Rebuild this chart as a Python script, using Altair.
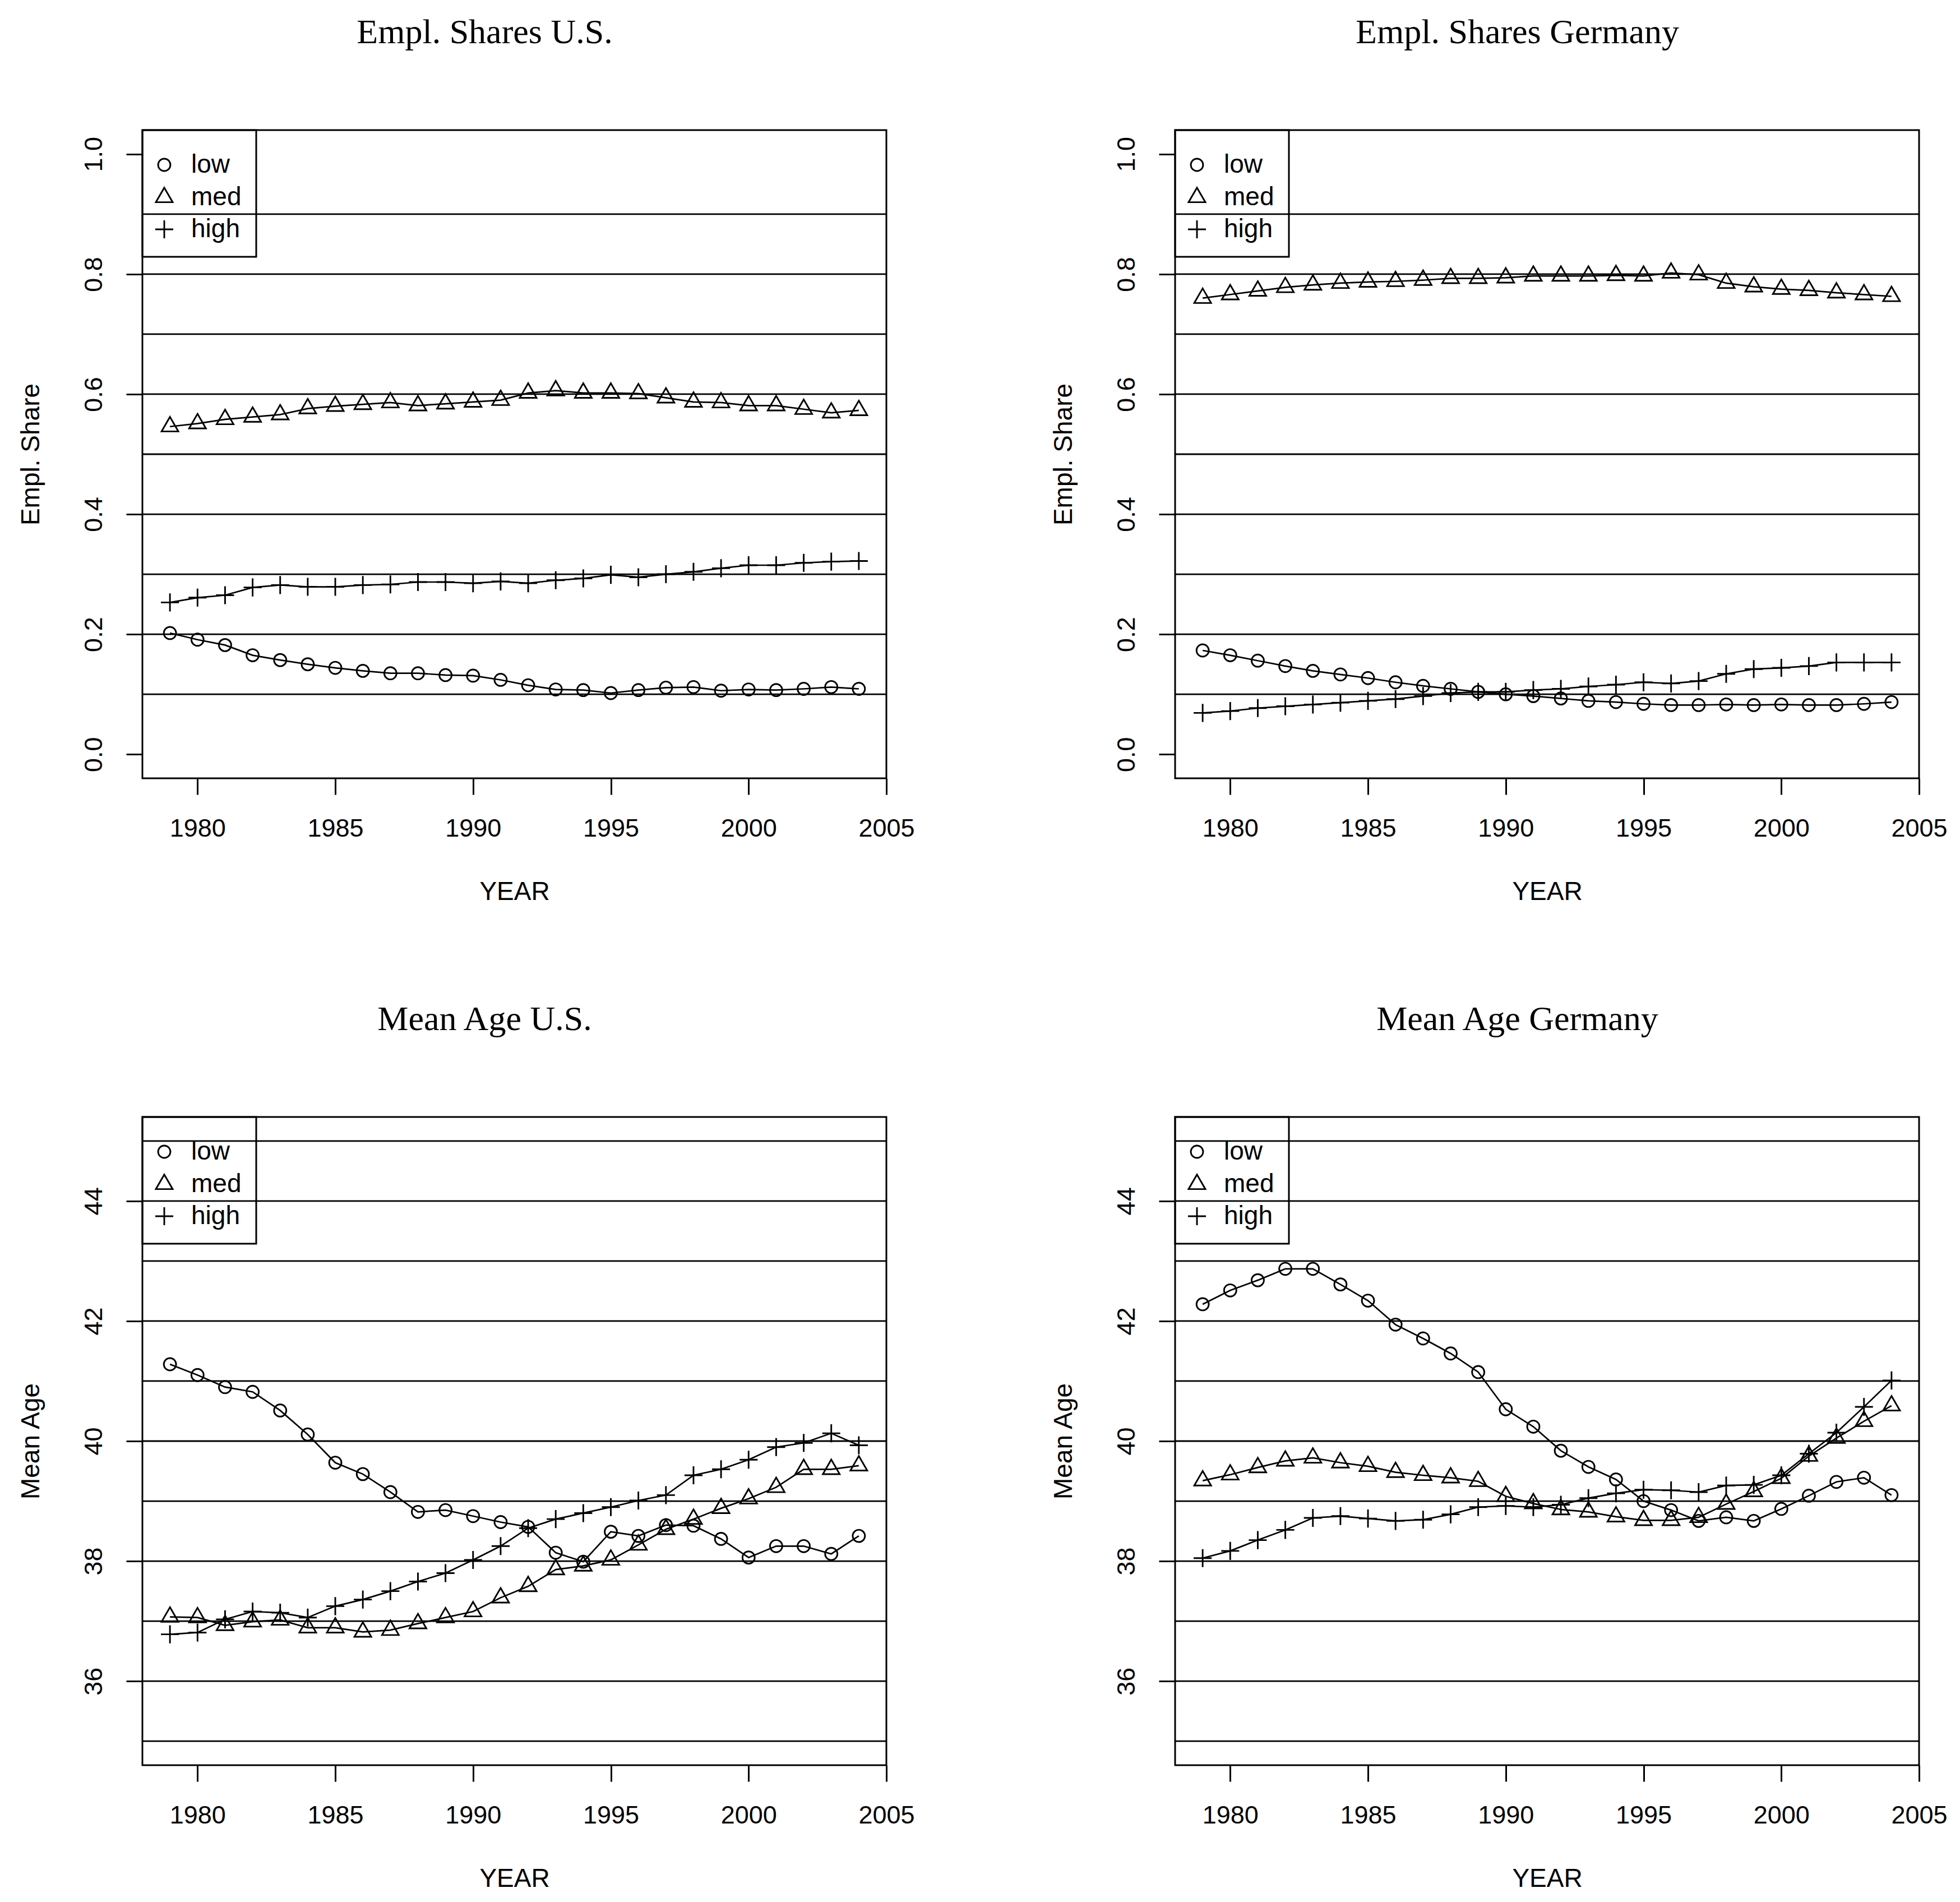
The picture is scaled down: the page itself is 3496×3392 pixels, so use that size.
import altair as alt
import pandas as pd

years = list(range(1979, 2005))
series_order = ["low", "med", "high"]

us_share_low = [0.202, 0.191, 0.182, 0.165, 0.157, 0.150, 0.144, 0.139, 0.135, 0.135, 0.132, 0.131, 0.124,
                0.115, 0.108, 0.107, 0.102, 0.107, 0.111, 0.112, 0.106, 0.108, 0.107, 0.109, 0.112, 0.109]
us_share_med = [0.546, 0.551, 0.558, 0.562, 0.566, 0.576, 0.580, 0.583, 0.586, 0.581, 0.584, 0.587, 0.590,
                0.602, 0.606, 0.602, 0.602, 0.601, 0.594, 0.587, 0.586, 0.581, 0.581, 0.575, 0.569, 0.573]
us_share_high = [0.253, 0.261, 0.265, 0.278, 0.282, 0.279, 0.279, 0.282, 0.283, 0.287, 0.287, 0.285, 0.288,
                 0.285, 0.290, 0.293, 0.299, 0.295, 0.300, 0.304, 0.310, 0.315, 0.315, 0.319, 0.321, 0.322]

de_share_low = [0.173, 0.165, 0.156, 0.147, 0.139, 0.133, 0.127, 0.120, 0.114, 0.109, 0.104, 0.100, 0.097,
                0.093, 0.089, 0.087, 0.084, 0.082, 0.082, 0.083, 0.082, 0.083, 0.082, 0.082, 0.084, 0.087]
de_share_med = [0.760, 0.766, 0.772, 0.778, 0.782, 0.785, 0.787, 0.788, 0.790, 0.793, 0.793, 0.794, 0.797,
                0.797, 0.797, 0.798, 0.797, 0.802, 0.799, 0.785, 0.779, 0.775, 0.773, 0.769, 0.766, 0.763]
de_share_high = [0.069, 0.072, 0.077, 0.080, 0.083, 0.086, 0.089, 0.092, 0.097, 0.102, 0.104, 0.104, 0.107,
                 0.109, 0.113, 0.116, 0.120, 0.118, 0.122, 0.134, 0.142, 0.144, 0.147, 0.153, 0.153, 0.153]

us_age_low = [41.28, 41.10, 40.90, 40.82, 40.51, 40.11, 39.64, 39.45, 39.15, 38.82, 38.85, 38.75, 38.65,
              38.57, 38.14, 37.99, 38.49, 38.42, 38.60, 38.59, 38.37, 38.06, 38.25, 38.25, 38.12, 38.42]
us_age_med = [37.07, 37.06, 36.93, 36.99, 37.02, 36.89, 36.89, 36.82, 36.85, 36.96, 37.06, 37.16, 37.39,
              37.58, 37.86, 37.92, 38.02, 38.27, 38.53, 38.70, 38.88, 39.04, 39.23, 39.53, 39.53, 39.59]
us_age_high = [36.78, 36.81, 37.03, 37.16, 37.14, 37.06, 37.25, 37.36, 37.50, 37.66, 37.80, 38.02, 38.25,
               38.55, 38.70, 38.80, 38.90, 39.01, 39.10, 39.43, 39.53, 39.69, 39.90, 39.97, 40.13, 39.93]

de_age_low = [42.28, 42.51, 42.68, 42.87, 42.87, 42.61, 42.34, 41.94, 41.71, 41.46, 41.15, 40.53, 40.24,
              39.84, 39.57, 39.36, 39.00, 38.85, 38.67, 38.73, 38.67, 38.87, 39.09, 39.32, 39.39, 39.10]
de_age_med = [39.34, 39.44, 39.56, 39.67, 39.72, 39.64, 39.58, 39.48, 39.43, 39.39, 39.33, 39.08, 38.96,
              38.86, 38.82, 38.74, 38.68, 38.68, 38.73, 38.95, 39.16, 39.38, 39.75, 40.05, 40.33, 40.59]
de_age_high = [38.05, 38.17, 38.35, 38.52, 38.72, 38.75, 38.71, 38.67, 38.69, 38.78, 38.90, 38.92, 38.90,
               38.94, 39.05, 39.13, 39.19, 39.18, 39.15, 39.26, 39.27, 39.43, 39.79, 40.14, 40.57, 41.01]

x_ticks = [1980, 1985, 1990, 1995, 2000, 2005]
share_ticks = [0.0, 0.2, 0.4, 0.6, 0.8, 1.0]
share_grid = [0.1, 0.2, 0.3, 0.4, 0.5, 0.6, 0.7, 0.8, 0.9]
age_ticks = [36, 38, 40, 42, 44]
age_grid = [35, 36, 37, 38, 39, 40, 41, 42, 43, 44, 45]

SANS = "Liberation Sans"
SERIF = "Liberation Serif"
W, H = 1327, 1156

circle_path = "M0.73,0A0.73,0.73 0 1,1 -0.73,0A0.73,0.73 0 1,1 0.73,0Z"
triangle_path = "M0,-1.1547L1,0.5774L-1,0.5774Z"
plus_path = "M-1.07,0H1.07M0,-1.07V1.07"
shape_range = [circle_path, triangle_path, plus_path]


def panel(title, ylab, low, med, high, ydomain, yticks, yfmt, grid):
    df = pd.DataFrame({
        "YEAR": years * 3,
        "value": low + med + high,
        "series": ["low"] * len(years) + ["med"] * len(years) + ["high"] * len(years),
    })
    gdf = pd.DataFrame({"value": grid})
    yscale = alt.Scale(domain=ydomain, nice=False, zero=False)
    yaxis = alt.Axis(values=yticks, format=yfmt, title=ylab,
                     labelFont=SANS, labelFontSize=45, labelColor="black",
                     labelAngle=270, labelAlign="center", labelBaseline="alphabetic",
                     labelPadding=44, labelFlush=False, labelOverlap=False,
                     tickSize=29, tickWidth=3, tickColor="black", domain=False, grid=False,
                     titleFont=SANS, titleFontSize=46, titleFontWeight="normal",
                     titleColor="black", titleAngle=270, titleBaseline="alphabetic",
                     titleAlign="center", titleX=-185, titleY=H / 2)
    x = alt.X("YEAR:Q",
              scale=alt.Scale(domain=[1978, 2005], nice=False, zero=False),
              axis=alt.Axis(values=x_ticks, format="d", title="YEAR",
                            labelFont=SANS, labelFontSize=45, labelColor="black",
                            labelBaseline="alphabetic", labelPadding=74, labelFlush=False,
                            labelOverlap=False,
                            tickSize=29, tickWidth=3, tickColor="black", domain=False, grid=False,
                            titleFont=SANS, titleFontSize=46, titleFontWeight="normal",
                            titleColor="black", titleBaseline="alphabetic",
                            titleX=W / 2, titleY=216, titleAlign="center"))
    y = alt.Y("value:Q", scale=yscale, axis=yaxis, title=ylab)
    rules = alt.Chart(gdf).mark_rule(color="black", strokeWidth=2.8).encode(y=y)
    lines = alt.Chart(df).mark_line(color="black", strokeWidth=2.7).encode(
        x=x, y=y, detail="series:N")
    pts = alt.Chart(df).mark_point(filled=False, color="black", strokeWidth=2.9, opacity=1,
                                   size=900).encode(
        x=x, y=y,
        shape=alt.Shape("series:N",
                        scale=alt.Scale(domain=series_order, range=shape_range),
                        legend=alt.Legend(title=" ", titleFontSize=10, titlePadding=3,
                                          orient="top-left", offset=0, padding=26,
                                          rowPadding=11, labelFont=SANS, labelFontSize=46,
                                          labelColor="black", labelOffset=25,
                                          symbolOffset=-10, symbolSize=900,
                                          symbolStrokeWidth=2.9, symbolStrokeColor="black",
                                          symbolFillColor="white", symbolOpacity=1,
                                          strokeColor="black")),
    )
    return alt.layer(rules, lines, pts).properties(
        width=W, height=H,
        title=alt.TitleParams(text=title, font=SERIF, fontSize=62, fontWeight="normal",
                              color="black", anchor="middle", frame="group",
                              baseline="alphabetic", offset=92, dx=-53))


tl = panel("Empl. Shares U.S.", "Empl. Share", us_share_low, us_share_med, us_share_high,
           [-0.04, 1.04], share_ticks, ".1f", share_grid)
tr = panel("Empl. Shares Germany", "Empl. Share", de_share_low, de_share_med, de_share_high,
           [-0.04, 1.04], share_ticks, ".1f", share_grid)
bl = panel("Mean Age U.S.", "Mean Age", us_age_low, us_age_med, us_age_high,
           [34.6, 45.4], age_ticks, "d", age_grid)
br = panel("Mean Age Germany", "Mean Age", de_age_low, de_age_med, de_age_high,
           [34.6, 45.4], age_ticks, "d", age_grid)

chart = alt.concat(
    tl, tr, bl, br, columns=2, bounds="flush",
    spacing=alt.RowColnumber(row=604, column=515),
).resolve_scale(
    shape="independent", x="independent", y="independent"
).properties(
    padding={"left": 22, "top": 17, "right": 10, "bottom": 10},
    background="white",
).configure_view(
    stroke="black", strokeWidth=3
).configure_legend(
    strokeWidth=3
)

chart.save("out.html", embed_options={"renderer": "svg", "actions": False})
